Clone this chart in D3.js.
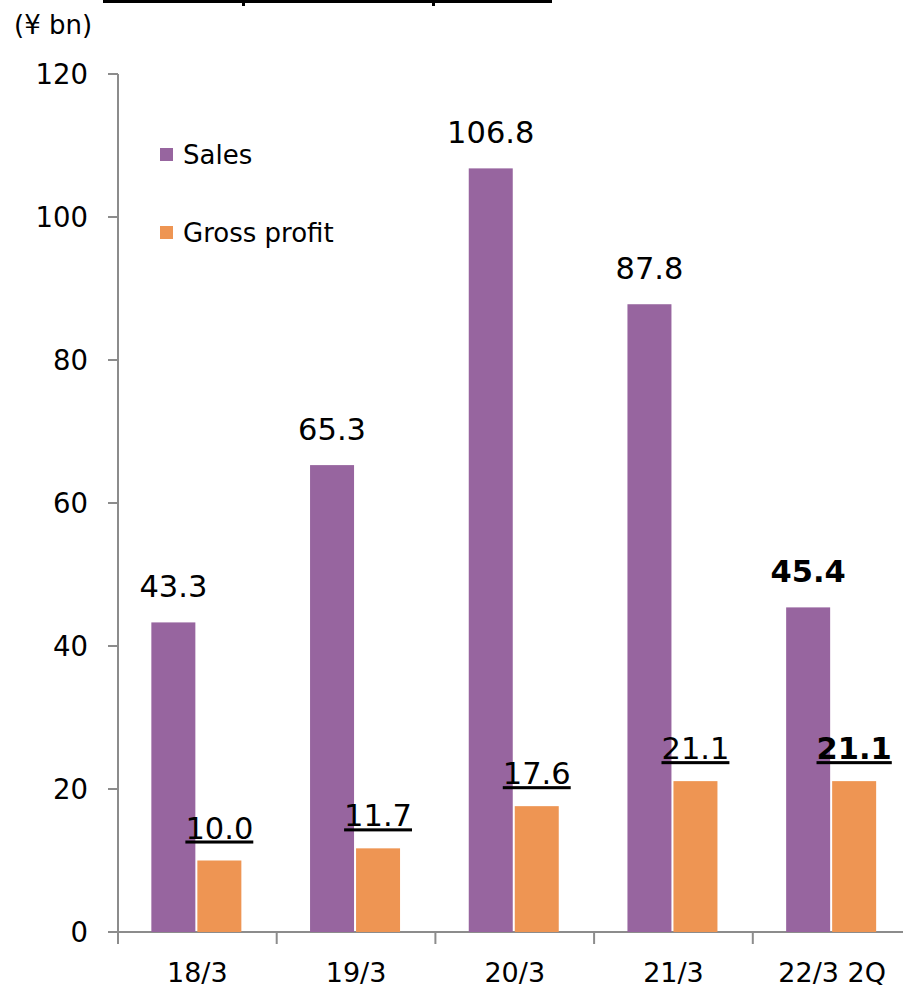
<!DOCTYPE html>
<html>
<head>
<meta charset="utf-8">
<script src="https://cdn.jsdelivr.net/npm/d3@7"></script>
<style>
  body { margin: 0; background: #fff; }
  svg { display: block; font-family: "DejaVu Sans", Verdana, sans-serif; }
</style>
</head>
<body>
<div id="chart"></div>
<script>
const categories = ["18/3", "19/3", "20/3", "21/3", "22/3 2Q"];
const sales = [43.3, 65.3, 106.8, 87.8, 45.4];
const grossProfit = [10.0, 11.7, 17.6, 21.1, 21.1];
const yTicks = [0, 20, 40, 60, 80, 100, 120];
const unitLabel = "(¥ bn)";
const seriesNames = ["Sales", "Gross profit"];

const width = 903;
const height = 988;
const purple = "#97659F";
const orange = "#EE9553";
const axisColor = "#8c8c8c";

const svg = d3.select("#chart").append("svg")
    .attr("width", width)
    .attr("height", height);

// clipped title underline at the very top
svg.append("rect").attr("x", 103).attr("y", 0).attr("width", 449).attr("height", 3).attr("fill", "#000");
svg.append("rect").attr("x", 242).attr("y", 0).attr("width", 3).attr("height", 6).attr("fill", "#000");
svg.append("rect").attr("x", 432).attr("y", 0).attr("width", 3).attr("height", 6).attr("fill", "#000");

const x0 = 118;
const band = 158.7;

const xScale = d3.scaleBand()
    .domain(categories)
    .range([x0, x0 + band * categories.length])
    .paddingInner(0)
    .paddingOuter(0);

const yScale = d3.scaleLinear()
    .domain([0, 120])
    .range([932, 74]);

const barW = 44;
const gap = 2;

// y axis
svg.append("line")
    .attr("x1", x0).attr("x2", x0)
    .attr("y1", yScale(120)).attr("y2", yScale(0))
    .attr("stroke", axisColor).attr("stroke-width", 2);

svg.selectAll(".ytick")
    .data(yTicks)
    .enter()
    .append("line")
    .attr("x1", x0 - 10).attr("x2", x0)
    .attr("y1", d => yScale(d)).attr("y2", d => yScale(d))
    .attr("stroke", axisColor).attr("stroke-width", 2);

svg.selectAll(".ylabel")
    .data(yTicks)
    .enter()
    .append("text")
    .attr("x", 88)
    .attr("y", d => yScale(d))
    .attr("dy", "0.36em")
    .attr("text-anchor", "end")
    .attr("font-size", 27.5)
    .attr("fill", "#000")
    .text(d => d);

// x axis
svg.append("line")
    .attr("x1", x0 - 10).attr("x2", width)
    .attr("y1", yScale(0)).attr("y2", yScale(0))
    .attr("stroke", axisColor).attr("stroke-width", 2);

svg.selectAll(".xtick")
    .data(categories)
    .enter()
    .append("line")
    .attr("x1", d => xScale(d)).attr("x2", d => xScale(d))
    .attr("y1", yScale(0)).attr("y2", yScale(0) + 12)
    .attr("stroke", axisColor).attr("stroke-width", 2);

svg.selectAll(".xlabel")
    .data(categories)
    .enter()
    .append("text")
    .attr("x", d => xScale(d) + band / 2)
    .attr("y", 982)
    .attr("text-anchor", "middle")
    .attr("font-size", 27)
    .text(d => d);

// bars
const center = d => xScale(d) + band / 2;

svg.selectAll(".sales")
    .data(categories)
    .enter()
    .append("rect")
    .attr("x", d => center(d) - gap / 2 - barW - 1)
    .attr("y", (d, i) => yScale(sales[i]))
    .attr("width", barW)
    .attr("height", (d, i) => yScale(0) - yScale(sales[i]))
    .attr("fill", purple);

svg.selectAll(".gross")
    .data(categories)
    .enter()
    .append("rect")
    .attr("x", d => center(d) + gap / 2 - 1)
    .attr("y", (d, i) => yScale(grossProfit[i]))
    .attr("width", barW)
    .attr("height", (d, i) => yScale(0) - yScale(grossProfit[i]))
    .attr("fill", orange);

// value labels
const last = categories.length - 1;

svg.selectAll(".salesLabel")
    .data(categories)
    .enter()
    .append("text")
    .attr("x", d => center(d) - gap / 2 - barW / 2 - 1)
    .attr("y", (d, i) => yScale(sales[i]) - 25)
    .attr("text-anchor", "middle")
    .attr("font-size", 30.5)
    .attr("font-weight", (d, i) => i === last ? "bold" : "normal")
    .text((d, i) => sales[i].toFixed(1));

svg.selectAll(".grossLabel")
    .data(categories)
    .enter()
    .append("text")
    .attr("x", d => center(d) + gap / 2 + barW / 2 - 1)
    .attr("y", (d, i) => yScale(grossProfit[i]) - 22)
    .attr("text-anchor", "middle")
    .attr("font-size", 30.5)
    .attr("font-weight", (d, i) => i === last ? "bold" : "normal")
    .attr("text-decoration", "underline")
    .text((d, i) => grossProfit[i].toFixed(1));

// unit label
svg.append("text")
    .attr("x", 14)
    .attr("y", 34)
    .attr("font-size", 26)
    .text(unitLabel);

// legend
const legendColors = [purple, orange];
const legendY = [155, 233];
seriesNames.forEach((name, i) => {
    svg.append("rect")
        .attr("x", 160).attr("y", legendY[i] - 7)
        .attr("width", 13).attr("height", 13)
        .attr("fill", legendColors[i]);
    svg.append("text")
        .attr("x", 183).attr("y", legendY[i])
        .attr("dy", "0.36em")
        .attr("font-size", 26)
        .text(name);
});
</script>
</body>
</html>
